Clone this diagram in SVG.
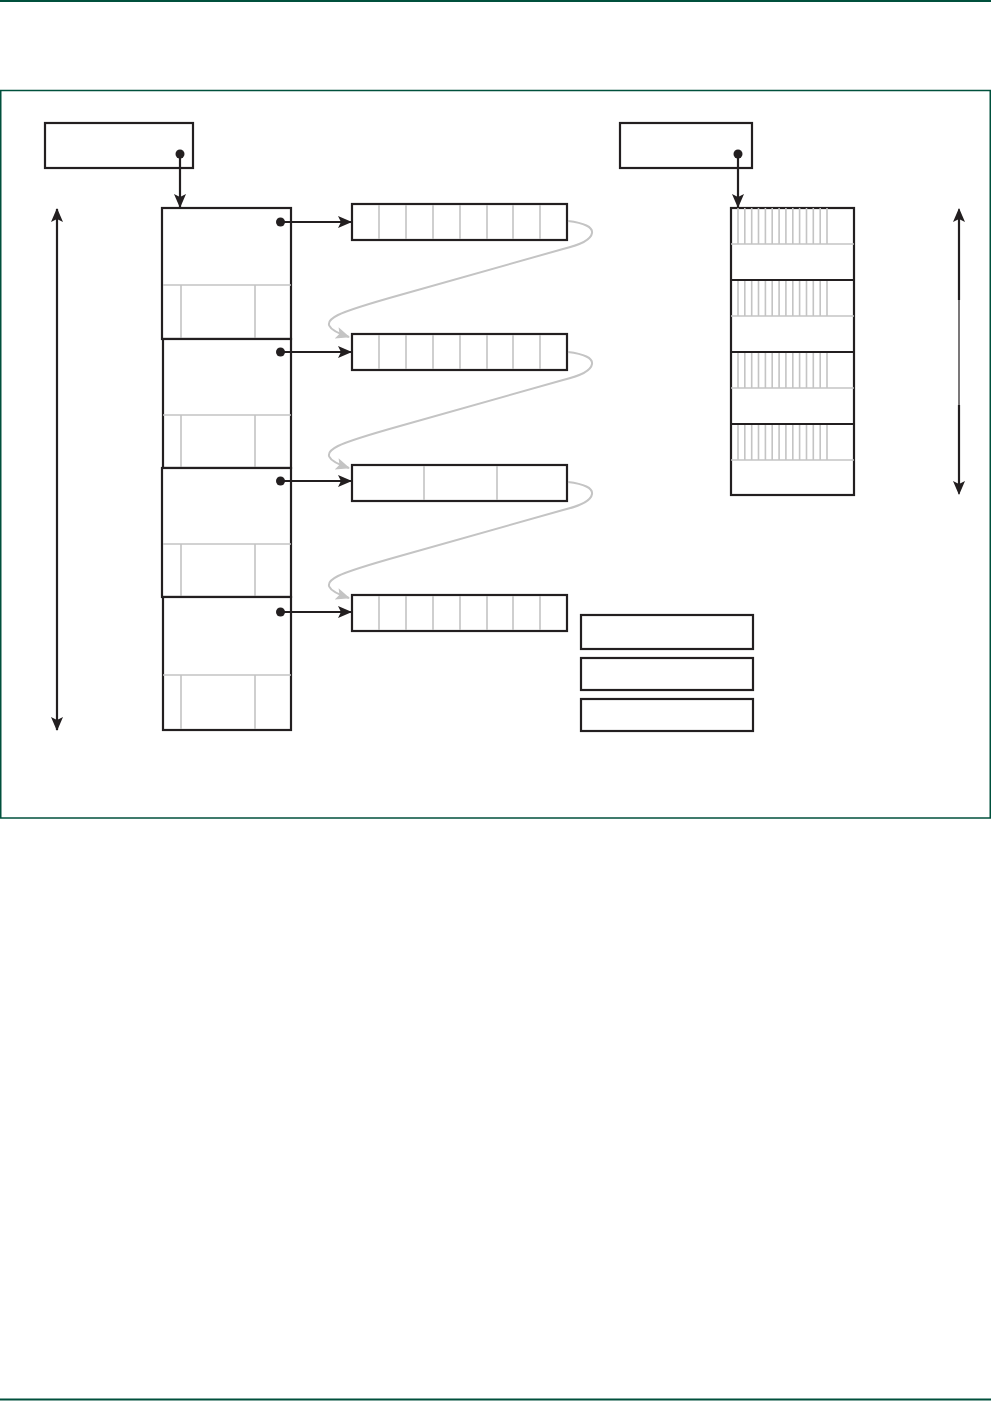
<svg xmlns="http://www.w3.org/2000/svg" width="991" height="1401" viewBox="0 0 991 1401">
<style>
.frame{fill:none;stroke:#00503c;stroke-width:1.5}
.box{fill:#fff;stroke:#231f20;stroke-width:2.2}
.g{stroke:#c4c4c4;stroke-width:1.6;fill:none}
.k{stroke:#231f20;stroke-width:2.2;fill:none}
.dot{fill:#231f20}
.curve{stroke:#c4c4c4;stroke-width:2;fill:none}
</style>
<defs>
<marker id="ah" markerUnits="userSpaceOnUse" markerWidth="14" markerHeight="12" viewBox="0 0 14 12" refX="13" refY="6" orient="auto-start-reverse">
<path d="M0,0 L14,6 L0,12 L3,6 Z" fill="#231f20"/>
</marker>
<marker id="ag" markerUnits="userSpaceOnUse" markerWidth="14" markerHeight="12" viewBox="0 0 14 12" refX="13" refY="6" orient="auto">
<path d="M0,0 L14,6 L0,12 L3,6 Z" fill="#c4c4c4"/>
</marker>
<g id="cells8">
<rect class="box" x="352" y="0" width="215" height="36"/>
<path class="g" d="M379,1V35M406,1V35M433,1V35M460,1V35M487,1V35M513,1V35M540,1V35"/>
</g>
<g id="ticks">
<path class="g" d="M738,0V36M744.8,0V36M751.7,0V36M758.5,0V36M765.4,0V36M772.2,0V36M779.1,0V36M785.9,0V36M792.8,0V36M799.6,0V36M806.5,0V36M813.3,0V36M820.2,0V36M827,0V36"/>
<path class="g" d="M731,36H854"/>
</g>
<g id="blk">
<path class="g" d="M163,77H291M181,77V131M255,77V131"/>
</g>
</defs>

<line x1="0" y1="1" x2="991" y2="1" stroke="#00503c" stroke-width="2"/>
<line x1="0" y1="1399.5" x2="991" y2="1399.5" stroke="#00503c" stroke-width="2"/>
<rect class="frame" x="0.75" y="90.5" width="989.5" height="727.5"/>

<g id="leftRef">
<rect class="box" x="45" y="123" width="148" height="45"/>
</g>
<g id="rightRef">
<rect class="box" x="620" y="123" width="132" height="45"/>
</g>

<g id="leftStack">
<rect class="box" x="162" y="208" width="129" height="131"/>
<use href="#blk" x="0" y="208"/>
<rect class="box" x="163" y="339" width="128" height="129"/>
<use href="#blk" x="0" y="338"/>
<rect class="box" x="162" y="468" width="129" height="129"/>
<use href="#blk" x="0" y="467"/>
<rect class="box" x="163" y="597" width="128" height="133"/>
<use href="#blk" x="0" y="598"/>
</g>

<g id="arr1"><use href="#cells8" y="204"/></g>
<g id="arr2"><use href="#cells8" y="334"/></g>
<g id="arr3">
<rect class="box" x="352" y="465" width="215" height="36"/>
<path class="g" d="M424,466V500M497,466V500"/>
</g>
<g id="arr4"><use href="#cells8" y="595"/></g>

<g id="rightStack">
<rect class="box" x="731" y="208" width="123" height="287"/>
<use href="#ticks" y="208"/>
<use href="#ticks" y="280"/>
<use href="#ticks" y="352"/>
<use href="#ticks" y="424"/>
<path class="k" d="M731,280H854M731,352H854M731,424H854"/>
</g>

<g id="box1"><rect class="box" x="581" y="615" width="172" height="34"/></g>
<g id="box2"><rect class="box" x="581" y="658" width="172" height="32"/></g>
<g id="box3"><rect class="box" x="581" y="699" width="172" height="32"/></g>

<g id="connectors">
<line class="k" x1="180" y1="154" x2="180" y2="207" marker-end="url(#ah)"/>
<line class="k" x1="738" y1="154" x2="738" y2="207" marker-end="url(#ah)"/>
<line class="k" x1="280" y1="222" x2="351" y2="222" marker-end="url(#ah)"/>
<line class="k" x1="280" y1="352" x2="351" y2="352" marker-end="url(#ah)"/>
<line class="k" x1="280" y1="481" x2="351" y2="481" marker-end="url(#ah)"/>
<line class="k" x1="280" y1="612" x2="351" y2="612" marker-end="url(#ah)"/>
<line class="k" x1="57" y1="209" x2="57" y2="730" marker-start="url(#ah)" marker-end="url(#ah)"/>
<line x1="959" y1="209" x2="959" y2="494" stroke="#231f20" stroke-width="1.2" marker-start="url(#ah)" marker-end="url(#ah)"/>
<path class="k" d="M959,212V300M959,405V491"/>
<path class="curve" d="M568,221 C584,223 593,227 592,233 C591,240 580,245 563,249 L400,295 C375,302 350,309 338,315 C324,322 325,329 349,337" marker-end="url(#ag)"/>
<path class="curve" d="M568,352 C584,354 593,358 592,364 C591,371 580,376 563,380 L400,426 C375,433 350,440 338,446 C324,453 325,460 349,468" marker-end="url(#ag)"/>
<path class="curve" d="M568,482 C584,484 593,488 592,494 C591,501 580,506 563,510 L400,556 C375,563 350,570 338,576 C324,583 325,590 349,598" marker-end="url(#ag)"/>
<circle class="dot" cx="180" cy="154" r="4.5"/>
<circle class="dot" cx="738" cy="154" r="4.5"/>
<circle class="dot" cx="280.5" cy="222" r="4.5"/>
<circle class="dot" cx="280.5" cy="352" r="4.5"/>
<circle class="dot" cx="280.5" cy="481" r="4.5"/>
<circle class="dot" cx="280.5" cy="612" r="4.5"/>
</g>
</svg>
